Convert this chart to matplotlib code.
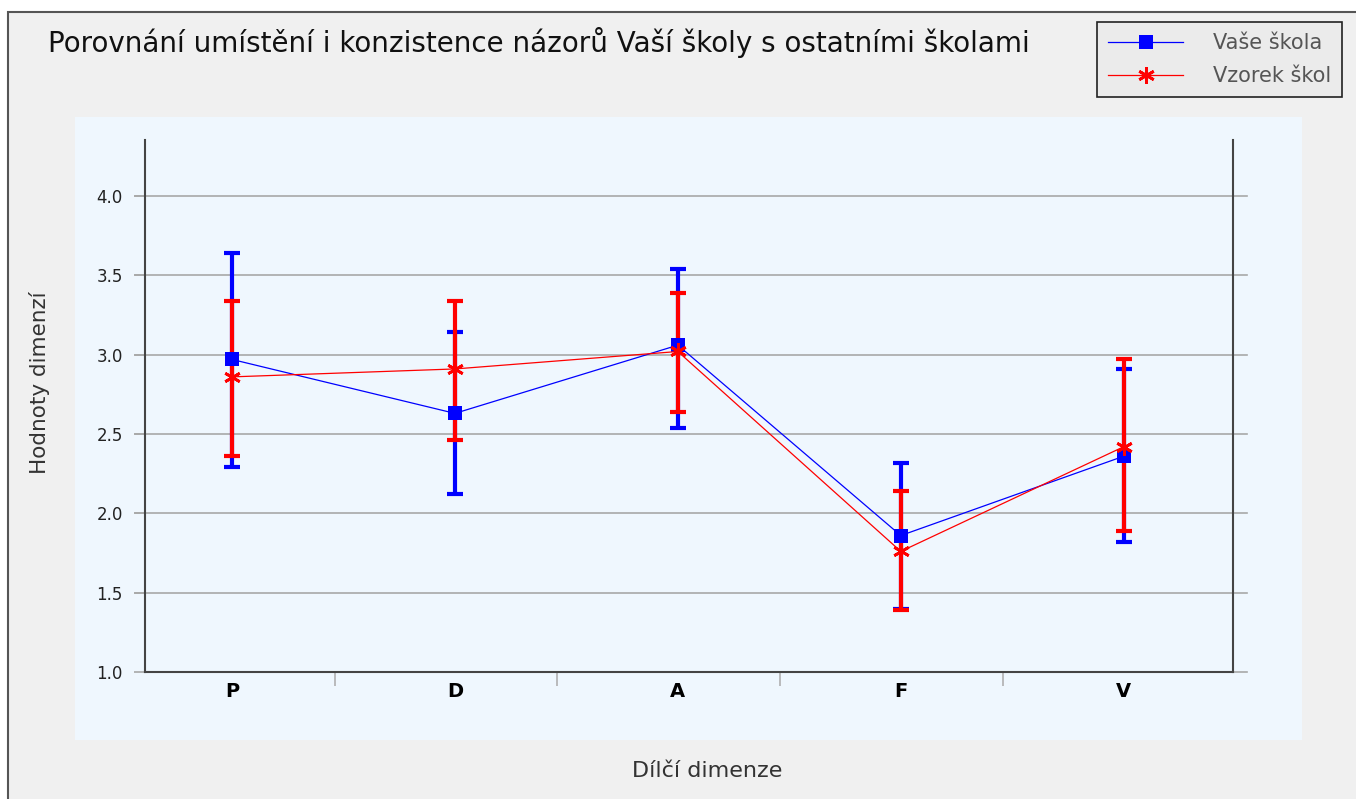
import numpy as np
import matplotlib
matplotlib.use('Agg')
import matplotlib.pyplot as plt
from matplotlib.patches import Rectangle

categories = ['P', 'D', 'A', 'F', 'V']

skola_mean = [2.97, 2.63, 3.06, 1.86, 2.36]
skola_low = [2.29, 2.12, 2.54, 1.40, 1.82]
skola_high = [3.64, 3.14, 3.54, 2.32, 2.91]

vzorek_mean = [2.86, 2.91, 3.02, 1.76, 2.42]
vzorek_low = [2.36, 2.46, 2.64, 1.39, 1.89]
vzorek_high = [3.34, 3.34, 3.39, 2.14, 2.97]

yticks = [1.0, 1.5, 2.0, 2.5, 3.0, 3.5, 4.0]

fig = plt.figure(figsize=(13.56, 7.99), dpi=100, facecolor='white')

# outer frame and light panel behind the plot
fig.patches.append(Rectangle((8 / 1356, -0.01), 1.0, 1 - 12 / 799 + 0.01,
                             transform=fig.transFigure, facecolor='#f0f0f0',
                             edgecolor='#555555', lw=1.5, zorder=-2))
fig.patches.append(Rectangle((75 / 1356, 1 - 740 / 799), (1302 - 75) / 1356, (740 - 117) / 799,
                             transform=fig.transFigure, facecolor='#eff7fe',
                             edgecolor='none', zorder=-1))

ax = fig.add_axes([145 / 1356, 1 - 672 / 799, (1233 - 145) / 1356, (672 - 140) / 799])
ax.set_facecolor('none')

x = np.arange(len(categories))


def draw(mean, low, high, color, marker, ms, label):
    mean = np.array(mean)
    err = [mean - np.array(low), np.array(high) - mean]
    ax.errorbar(x, mean, yerr=err, fmt='none', ecolor=color, elinewidth=3,
                capsize=6, capthick=3, zorder=3)
    ax.plot(x, mean, color=color, lw=0.9, marker=marker, ms=ms,
            markeredgewidth=2 if marker != 's' else 0, label=label, zorder=4)


draw(skola_mean, skola_low, skola_high, '#0000ff', 's', 10, 'Vaše škola')
draw(vzorek_mean, vzorek_low, vzorek_high, '#ff0000', (6, 2, 0), 12, 'Vzorek škol')

ax.set_xlim(-0.39, 4.49)
ax.set_ylim(1.0, 4.353)

for yv in yticks[1:]:
    ax.axhline(yv, xmin=-0.009, xmax=1.013, color='#a8a8a8', lw=1.2, clip_on=False, zorder=1)
ax.axhline(1.0, xmin=1.0, xmax=1.013, color='#a8a8a8', lw=1.2, clip_on=False, zorder=1)

ax.spines['top'].set_visible(False)
for s in ['left', 'right', 'bottom']:
    ax.spines[s].set_color('#444444')
    ax.spines[s].set_linewidth(1.5)

ax.set_yticks(yticks)
ax.set_yticklabels([f'{v:.1f}' for v in yticks], fontsize=12, color='#222222')
ax.tick_params(axis='y', length=8, color='#a8a8a8', width=1.2, pad=8)

ax.set_xticks(x)
ax.set_xticklabels(categories, fontsize=14, fontweight='bold')
ax.tick_params(axis='x', length=0, pad=7)
ax.set_xticks(x[:-1] + 0.46, minor=True)
ax.tick_params(axis='x', which='minor', length=10, color='#b0b0b0', width=1.2, direction='out')

fig.text(40 / 1356, 1 - 383 / 799, 'Hodnoty dimenzí', fontsize=15.5, color='#333333',
         ha='center', va='center', rotation=90)
fig.text(707 / 1356, 1 - 771 / 799, 'Dílčí dimenze', fontsize=16, color='#333333',
         ha='center', va='center')

fig.text(48 / 1356, 1 - 42 / 799, 'Porovnání umístění i konzistence názorů Vaší školy s ostatními školami',
         fontsize=20, color='#111111', ha='left', va='center')

leg = fig.legend(loc='upper left', bbox_to_anchor=(1097 / 1356, 1 - 22 / 799), fontsize=15,
                 frameon=True, fancybox=False, edgecolor='#222222', facecolor='#ebebeb',
                 framealpha=1, handlelength=3.6, handletextpad=1.4, borderpad=0.55,
                 labelspacing=0.6, borderaxespad=0)
leg.get_frame().set_linewidth(1.2)
for t in leg.get_texts():
    t.set_color('#555555')

fig.savefig('out.png', dpi=100, facecolor=fig.get_facecolor())
